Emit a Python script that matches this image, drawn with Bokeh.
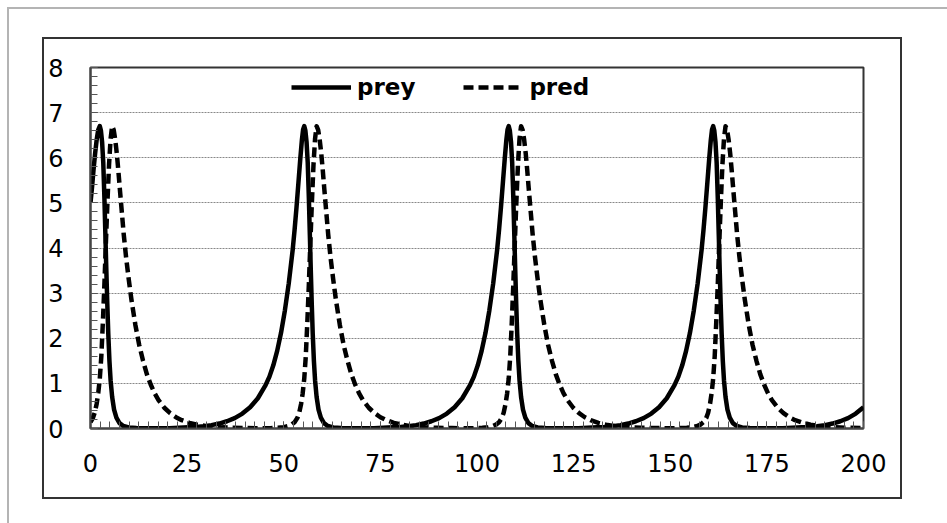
from bokeh.plotting import figure
from bokeh.models import Range1d, SingleIntervalTicker, Legend, LegendItem
from bokeh.embed import file_html
from bokeh.resources import INLINE

# ---- data ----
t_prey = [0, 0.4, 0.8, 1.2, 1.6, 2.0, 2.4,
          2.7, 3.0, 3.3, 3.6, 3.85, 4.1, 4.35, 4.6, 4.9, 5.2, 5.6, 6.1, 6.7, 7.5, 8.5, 9.9, 11.9, 15.4, 20.4,
          25.3, 27.3, 29.3, 31.3, 33.3, 35.3, 37.3, 39.3, 41.3, 43.3, 45.3, 46.3, 47.3, 48.3, 49.3, 50.3, 51.3, 52.3, 52.8, 53.3, 53.8, 54.3, 54.7, 55.0, 55.3,
          55.6, 55.9, 56.2, 56.5, 56.75, 57.0, 57.25, 57.5, 57.8, 58.1, 58.5, 59.0, 59.6, 60.4, 61.4, 62.8, 64.8, 68.3, 73.3,
          78.2, 80.2, 82.2, 84.2, 86.2, 88.2, 90.2, 92.2, 94.2, 96.2, 98.2, 99.2, 100.2, 101.2, 102.2, 103.2, 104.2, 105.2, 105.7, 106.2, 106.7, 107.2, 107.6, 107.9, 108.2,
          108.5, 108.8, 109.1, 109.4, 109.65, 109.9, 110.15, 110.4, 110.7, 111.0, 111.4, 111.9, 112.5, 113.3, 114.3, 115.7, 117.7, 121.2, 126.2,
          131.1, 133.1, 135.1, 137.1, 139.1, 141.1, 143.1, 145.1, 147.1, 149.1, 151.1, 152.1, 153.1, 154.1, 155.1, 156.1, 157.1, 158.1, 158.6, 159.1, 159.6, 160.1, 160.5, 160.8, 161.1,
          161.4, 161.7, 162.0, 162.3, 162.55, 162.8, 163.05, 163.3, 163.6, 163.9, 164.3, 164.8, 165.4, 166.2, 167.2, 168.6, 170.6, 174.1, 179.1,
          184.0, 186.0, 188.0, 190.0, 192.0, 194.0, 196.0, 198.0, 200.0]
prey = [5.0, 5.35, 5.75, 6.1, 6.4, 6.62, 6.7,
        6.6, 6.35, 5.9, 5.1, 4.3, 3.5, 2.75, 2.1, 1.5, 1.07, 0.7, 0.42, 0.24, 0.12, 0.055, 0.024, 0.011, 0.006, 0.005,
        0.025, 0.035, 0.05, 0.075, 0.11, 0.16, 0.23, 0.33, 0.47, 0.67, 0.96, 1.15, 1.4, 1.72, 2.12, 2.62, 3.22, 3.95, 4.4, 4.9, 5.45, 6.0, 6.4, 6.62, 6.7,
        6.6, 6.35, 5.9, 5.1, 4.3, 3.5, 2.75, 2.1, 1.5, 1.07, 0.7, 0.42, 0.24, 0.12, 0.055, 0.024, 0.011, 0.006, 0.005,
        0.025, 0.035, 0.05, 0.075, 0.11, 0.16, 0.23, 0.33, 0.47, 0.67, 0.96, 1.15, 1.4, 1.72, 2.12, 2.62, 3.22, 3.95, 4.4, 4.9, 5.45, 6.0, 6.4, 6.62, 6.7,
        6.6, 6.35, 5.9, 5.1, 4.3, 3.5, 2.75, 2.1, 1.5, 1.07, 0.7, 0.42, 0.24, 0.12, 0.055, 0.024, 0.011, 0.006, 0.005,
        0.025, 0.035, 0.05, 0.075, 0.11, 0.16, 0.23, 0.33, 0.47, 0.67, 0.96, 1.15, 1.4, 1.72, 2.12, 2.62, 3.22, 3.95, 4.4, 4.9, 5.45, 6.0, 6.4, 6.62, 6.7,
        6.6, 6.35, 5.9, 5.1, 4.3, 3.5, 2.75, 2.1, 1.5, 1.07, 0.7, 0.42, 0.24, 0.12, 0.055, 0.024, 0.011, 0.006, 0.005,
        0.025, 0.035, 0.05, 0.075, 0.11, 0.16, 0.23, 0.33, 0.47]

t_pred = [0, 0.6, 1.1, 1.6, 2.0, 2.4, 2.8, 3.2, 3.6, 4.0, 4.4, 4.8, 5.2, 5.6,
          6.0, 6.4, 6.8, 7.2, 7.6, 8.1, 8.6, 9.2, 9.9, 10.6, 11.6, 12.6, 13.6, 14.6, 15.6, 16.6, 17.6, 19.1, 20.6, 22.1, 23.6, 25.6, 27.6, 29.6, 31.6, 34.1, 36.6, 40.6, 45.6,
          46.5, 48.5, 50.0, 51.0, 52.0, 52.8, 53.5, 54.0, 54.5, 54.9, 55.3, 55.7, 56.1, 56.5, 56.9, 57.3, 57.7, 58.1, 58.5,
          58.9, 59.3, 59.7, 60.1, 60.5, 61.0, 61.5, 62.1, 62.8, 63.5, 64.5, 65.5, 66.5, 67.5, 68.5, 69.5, 70.5, 72.0, 73.5, 75.0, 76.5, 78.5, 80.5, 82.5, 84.5, 87.0, 89.5, 93.5, 98.5,
          99.4, 101.4, 102.9, 103.9, 104.9, 105.7, 106.4, 106.9, 107.4, 107.8, 108.2, 108.6, 109.0, 109.4, 109.8, 110.2, 110.6, 111.0, 111.4,
          111.8, 112.2, 112.6, 113.0, 113.4, 113.9, 114.4, 115.0, 115.7, 116.4, 117.4, 118.4, 119.4, 120.4, 121.4, 122.4, 123.4, 124.9, 126.4, 127.9, 129.4, 131.4, 133.4, 135.4, 137.4, 139.9, 142.4, 146.4, 151.4,
          152.3, 154.3, 155.8, 156.8, 157.8, 158.6, 159.3, 159.8, 160.3, 160.7, 161.1, 161.5, 161.9, 162.3, 162.7, 163.1, 163.5, 163.9, 164.3,
          164.7, 165.1, 165.5, 165.9, 166.3, 166.8, 167.3, 167.9, 168.6, 169.3, 170.3, 171.3, 172.3, 173.3, 174.3, 175.3, 176.3, 177.8, 179.3, 180.8, 182.3, 184.3, 186.3, 188.3, 190.3, 192.8, 195.3, 200.0]
pred = [0.14, 0.23, 0.35, 0.55, 0.78, 1.1, 1.6, 2.35, 3.2, 4.15, 5.05, 5.85, 6.42, 6.7,
        6.62, 6.4, 6.1, 5.72, 5.3, 4.8, 4.3, 3.8, 3.3, 2.85, 2.3, 1.85, 1.5, 1.2, 0.97, 0.78, 0.63, 0.46, 0.34, 0.25, 0.185, 0.125, 0.085, 0.058, 0.04, 0.025, 0.016, 0.009, 0.006,
        0.008, 0.015, 0.03, 0.05, 0.085, 0.14, 0.23, 0.35, 0.55, 0.78, 1.1, 1.6, 2.35, 3.2, 4.15, 5.05, 5.85, 6.42, 6.7,
        6.62, 6.4, 6.1, 5.72, 5.3, 4.8, 4.3, 3.8, 3.3, 2.85, 2.3, 1.85, 1.5, 1.2, 0.97, 0.78, 0.63, 0.46, 0.34, 0.25, 0.185, 0.125, 0.085, 0.058, 0.04, 0.025, 0.016, 0.009, 0.006,
        0.008, 0.015, 0.03, 0.05, 0.085, 0.14, 0.23, 0.35, 0.55, 0.78, 1.1, 1.6, 2.35, 3.2, 4.15, 5.05, 5.85, 6.42, 6.7,
        6.62, 6.4, 6.1, 5.72, 5.3, 4.8, 4.3, 3.8, 3.3, 2.85, 2.3, 1.85, 1.5, 1.2, 0.97, 0.78, 0.63, 0.46, 0.34, 0.25, 0.185, 0.125, 0.085, 0.058, 0.04, 0.025, 0.016, 0.009, 0.006,
        0.008, 0.015, 0.03, 0.05, 0.085, 0.14, 0.23, 0.35, 0.55, 0.78, 1.1, 1.6, 2.35, 3.2, 4.15, 5.05, 5.85, 6.42, 6.7,
        6.62, 6.4, 6.1, 5.72, 5.3, 4.8, 4.3, 3.8, 3.3, 2.85, 2.3, 1.85, 1.5, 1.2, 0.97, 0.78, 0.63, 0.46, 0.34, 0.25, 0.185, 0.125, 0.085, 0.058, 0.04, 0.025, 0.016, 0.009]

series_names = ["prey", "pred"]
x_min, x_max, x_step = 0, 200, 25
y_min, y_max, y_step = 0, 8, 1

FONT = "DejaVu Sans"

p = figure(width=947, height=523, output_backend="svg", toolbar_location=None,
           x_range=Range1d(x_min, x_max), y_range=Range1d(y_min, y_max),
           min_border_left=90, min_border_right=84, min_border_top=67, min_border_bottom=95)
p.background_fill_color = "white"
p.border_fill_color = None
p.outline_line_color = "#333333"
p.outline_line_width = 2

# page frame (light gray) and chart box (dark) drawn as CSS backgrounds behind the transparent canvas
dark = "linear-gradient(#333333,#333333)"
gray = "linear-gradient(#b4b4b4,#b4b4b4)"
p.styles = {
    "background-color": "white",
    "background-image": ", ".join([dark, dark, dark, dark, gray, gray]),
    "background-position": "42px 37px, 42px 497px, 42px 37px, 900px 37px, 7px 7px, 7px 7px",
    "background-size": "860px 2px, 860px 2px, 2px 462px, 2px 462px, 940px 2px, 2px 516px",
    "background-repeat": "no-repeat",
}

# axes
p.xaxis.ticker = SingleIntervalTicker(interval=x_step, num_minor_ticks=10)
p.yaxis.ticker = SingleIntervalTicker(interval=y_step, num_minor_ticks=5)
for ax in (p.xaxis[0], p.yaxis[0]):
    ax.axis_line_color = "#444444"
    ax.axis_line_width = 2
    ax.major_tick_in = 7
    ax.major_tick_out = 0
    ax.minor_tick_in = 7
    ax.minor_tick_out = 0
    ax.major_tick_line_color = "#555555"
    ax.minor_tick_line_color = "#555555"
    ax.major_label_text_font = FONT
    ax.major_label_text_font_size = "24px"
    ax.major_label_text_color = "black"
p.xaxis.major_label_standoff = 25
p.yaxis.major_label_standoff = 27

p.xgrid.visible = False
p.ygrid.grid_line_color = "#888888"
p.ygrid.grid_line_width = 1
p.ygrid.grid_line_dash = "2 1"

r1 = p.line(t_prey, prey, line_color="black", line_width=4.5, line_join="round")
r2 = p.line(t_pred, pred, line_color="black", line_width=4.5, line_dash="10 5", line_join="round")

legend = Legend(items=[LegendItem(label=series_names[0], renderers=[r1]),
                       LegendItem(label=series_names[1], renderers=[r2])],
                orientation="horizontal", location=(201, 328),
                border_line_alpha=0, background_fill_alpha=0,
                label_text_font=FONT, label_text_font_style="bold", label_text_font_size="23px",
                label_text_color="black",
                glyph_width=60, glyph_height=20, label_standoff=6, spacing=48, padding=0, margin=0)
p.add_layout(legend)

open("out.html", "w").write(file_html(p, INLINE))
